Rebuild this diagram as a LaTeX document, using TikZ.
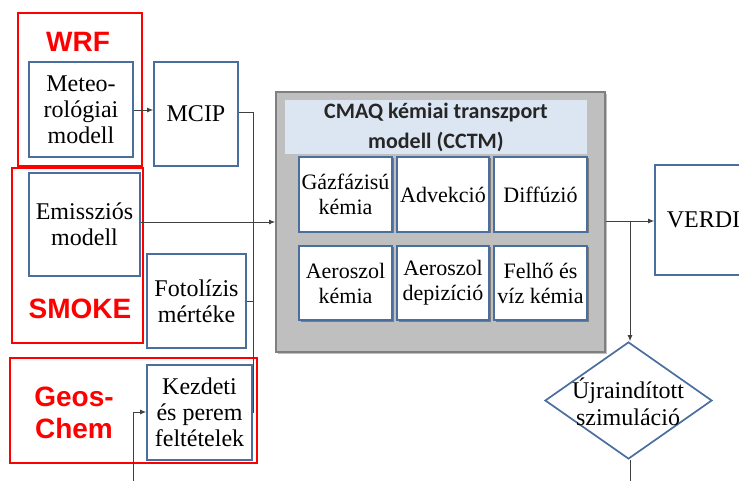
\documentclass[tikz,border=0pt]{standalone}
\usepackage{fontspec}
\setmainfont{Liberation Serif}
\newfontfamily\redfont{Liberation Sans}
\newfontfamily\hdrfont{Carlito}
\usetikzlibrary{shapes.geometric,arrows.meta,shadows}
\definecolor{boxblue}{HTML}{4A6E9E}
\definecolor{redline}{HTML}{FF0000}
\definecolor{cmaqgray}{HTML}{BFBFBF}
\definecolor{cmaqedge}{HTML}{7F7F7F}
\definecolor{hdrblue}{HTML}{DCE6F2}
\definecolor{connc}{HTML}{404040}
\begin{document}
\begin{tikzpicture}[x=1pt,y=-1pt,
  bbox/.style={draw=boxblue, line width=1.7pt, fill=white, inner sep=1pt, align=center, font=\fontsize{24}{26}\selectfont},
  ibox/.style={draw=boxblue, line width=2.2pt, fill=white, inner sep=0pt, align=center, font=\fontsize{22}{25}\selectfont,
    drop shadow={shadow xshift=1.5pt, shadow yshift=-1.5pt, fill=black, opacity=0.35}},
  redbox/.style={draw=redline, line width=2.5pt, inner sep=0pt},
  redlbl/.style={text=redline, font=\redfont\bfseries\fontsize{28}{32}\selectfont, align=center},
  conn/.style={draw=connc, line width=0.9pt},
  arr/.style={conn, -{Latex[length=6pt,width=5pt]}},
]
\useasboundingbox (0,0) rectangle (739,481);

% red grouping boxes
\node[redbox, minimum width=124pt, minimum height=153pt] (wrfbox) at (80,89.5) {};
\node[redbox, minimum width=131pt, minimum height=175pt] (smokebox) at (77.5,255.5) {};
\node[redbox, minimum width=247pt, minimum height=105pt] (geosbox) at (133.5,410.5) {};
\node[redlbl] (wrf) at (78,42) {WRF};
\node[redlbl] (smoke) at (80,309) {SMOKE};
\node[redlbl] (geos) at (74,413) {Geos-\\Chem};

% left boxes
\node[bbox, minimum width=104pt, minimum height=95pt] (meteo) at (81,109.5) {Meteo-\\rológiai\\modell};
\node[bbox, minimum width=84pt, minimum height=104pt] (mcip) at (196,114) {MCIP};
\node[bbox, minimum width=111pt, minimum height=103pt] (emis) at (84.5,224.5) {Emissziós\\modell};
\node[bbox, minimum width=99pt, minimum height=94pt] (foto) at (196.5,301) {Fotolízis\\mértéke};
\node[bbox, minimum width=105pt, minimum height=95pt] (kezd) at (199.5,412.5) {Kezdeti\\és perem\\feltételek};

% CMAQ box
\node[draw=cmaqedge, fill=cmaqgray, line width=1.8pt, minimum width=329pt, minimum height=260pt, inner sep=0pt,
  drop shadow={shadow xshift=2pt, shadow yshift=-2pt, fill=black, opacity=0.25}] (cmaq) at (440.5,222) {};
\node[fill=hdrblue, minimum width=302pt, minimum height=54pt, inner sep=0pt, align=center, text=black!85,
  font=\hdrfont\bfseries\fontsize{22}{30}\selectfont] (hdr) at (436,127) {CMAQ kémiai transzport\\modell (CCTM)};
\node[ibox, minimum width=93pt, minimum height=75pt] (gaz) at (345.5,194.5) {Gázfázisú\\kémia};
\node[ibox, minimum width=92pt, minimum height=75pt] (adv) at (443,194.5) {Advekció};
\node[ibox, minimum width=93pt, minimum height=75pt] (dif) at (540.5,194.5) {Diffúzió};
\node[ibox, minimum width=93pt, minimum height=74pt] (aerk) at (345.5,283) {Aeroszol\\kémia};
\node[ibox, minimum width=92pt, minimum height=74pt] (aerd) at (443,283) {Aeroszol\\depizíció};
\node[ibox, minimum width=93pt, minimum height=74pt] (felh) at (540.5,283) {Felhő és\\víz kémia};

% right side
\node[bbox, minimum width=97pt, minimum height=110pt] (verdi) at (703.5,220) {VERDI};
\node[diamond, draw=boxblue, line width=1.7pt, fill=white, minimum width=167pt, minimum height=117pt, inner sep=0pt] (uj) at (628.5,400.5) {};
\node[align=center, inner sep=0pt, font=\fontsize{24}{27}\selectfont] (ujtext) at (628,402) {Újraindított\\szimuláció};

% connectors
\coordinate (col) at (253,0);
\coordinate (br) at (630,221);
\coordinate (bin) at (133,481);
\coordinate (bout) at (630,481);
\draw[arr] (meteo.east |- 0,110) -- (mcip.west |- 0,110);
\draw[conn] (mcip.east |- 0,112) -- (col |- 0,112) -- (col |- kezd.east);
\draw[conn] (foto.east) -- (foto.east -| col);
\draw[arr] (emis.east |- 0,222) -- (cmaq.west |- 0,222);
\draw[arr] (cmaq.east |- br) -- (verdi.west |- br);
\draw[arr] (br) -- (br |- uj.north);
\draw[conn] (br |- uj.south) -- (bout);
\draw[arr] (bin) |- (kezd.west |- 0,412);
\end{tikzpicture}
\end{document}
